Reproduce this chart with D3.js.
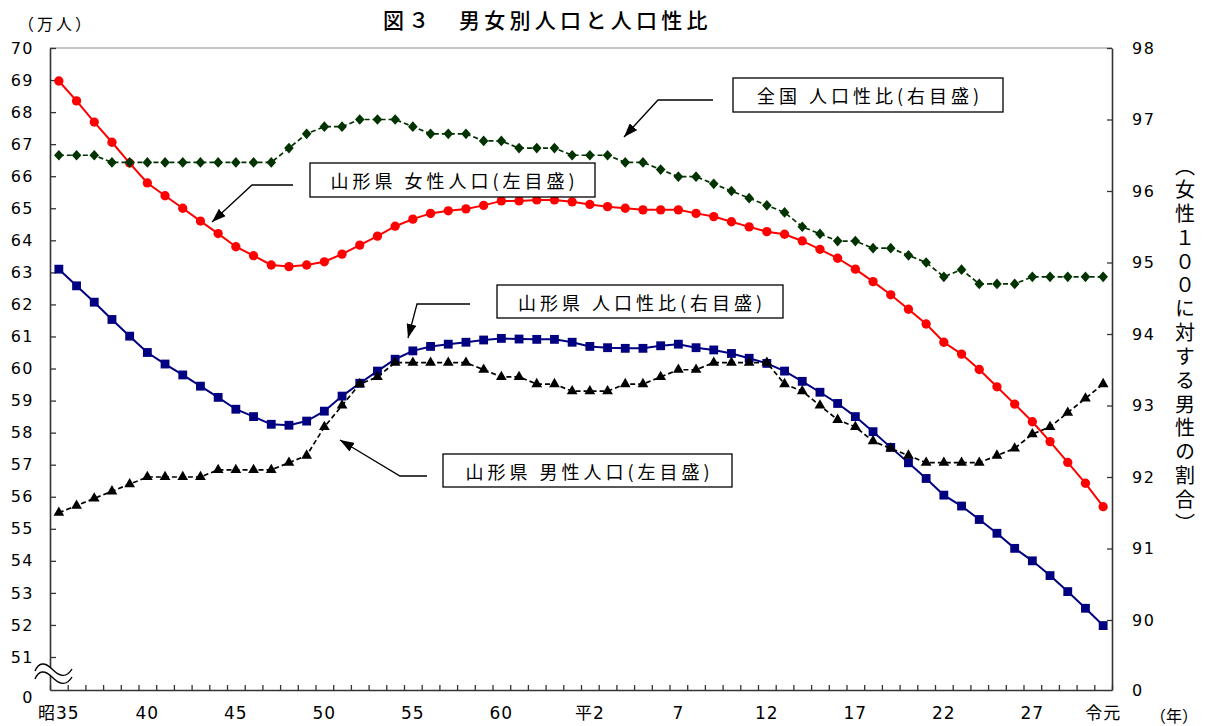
<!DOCTYPE html>
<html><head><meta charset="utf-8">
<script src="https://cdn.jsdelivr.net/npm/d3@7"></script>
<style>
body{margin:0;background:#fff}
svg{display:block;background:#fff}
</style>
</head><body>
<svg id="chart" width="1205" height="726"></svg>
<script>
// ---------------- data ----------------
// years 昭和35(1960) .. 令和元(2019)
const years = d3.range(1960, 2020);
const xTickYears = [1960,1965,1970,1975,1980,1985,1990,1995,2000,2005,2010,2015,2019];
const xTickLabels = ["昭35","40","45","50","55","60","平2","7","12","17","22","27","令元"];

// 山形県 女性人口 (万人, 左目盛)
const femalePop = [68.97,68.35,67.69,67.06,66.41,65.79,65.39,65.00,64.60,64.21,
  63.80,63.52,63.23,63.18,63.23,63.33,63.57,63.85,64.13,64.44,
  64.66,64.84,64.92,64.98,65.09,65.23,65.23,65.26,65.26,65.20,
  65.12,65.05,65.00,64.95,64.95,64.95,64.84,64.74,64.58,64.42,
  64.27,64.19,63.98,63.72,63.44,63.10,62.71,62.30,61.85,61.39,
  60.82,60.45,59.97,59.43,58.89,58.34,57.72,57.07,56.42,55.69];
// 山形県 男性人口 (万人, 左目盛)
const malePop = [63.10,62.58,62.07,61.53,61.01,60.50,60.14,59.80,59.45,59.10,
  58.73,58.50,58.26,58.23,58.36,58.67,59.14,59.54,59.92,60.29,
  60.55,60.69,60.76,60.82,60.89,60.94,60.92,60.91,60.91,60.82,
  60.69,60.65,60.63,60.63,60.71,60.76,60.65,60.58,60.47,60.32,
  60.16,59.92,59.60,59.26,58.91,58.50,58.03,57.54,57.06,56.57,
  56.05,55.71,55.29,54.86,54.39,54.00,53.54,53.04,52.52,51.98];
// 山形県 人口性比 (右目盛)
const ratioYamagata = [91.5,91.6,91.7,91.8,91.9,92.0,92.0,92.0,92.0,92.1,
  92.1,92.1,92.1,92.2,92.3,92.7,93.0,93.3,93.4,93.6,
  93.6,93.6,93.6,93.6,93.5,93.4,93.4,93.3,93.3,93.2,
  93.2,93.2,93.3,93.3,93.4,93.5,93.5,93.6,93.6,93.6,
  93.6,93.3,93.2,93.0,92.8,92.7,92.5,92.4,92.3,92.2,
  92.2,92.2,92.2,92.3,92.4,92.6,92.7,92.9,93.1,93.3];
// 全国 人口性比 (右目盛)
const ratioJapan = [96.5,96.5,96.5,96.4,96.4,96.4,96.4,96.4,96.4,96.4,
  96.4,96.4,96.4,96.6,96.8,96.9,96.9,97.0,97.0,97.0,
  96.9,96.8,96.8,96.8,96.7,96.7,96.6,96.6,96.6,96.5,
  96.5,96.5,96.4,96.4,96.3,96.2,96.2,96.1,96.0,95.9,
  95.8,95.7,95.5,95.4,95.3,95.3,95.2,95.2,95.1,95.0,
  94.8,94.9,94.7,94.7,94.7,94.8,94.8,94.8,94.8,94.8];

const leftTicks = [0].concat(d3.range(51, 71));
const rightTicks = [0].concat(d3.range(90, 99));

// ---------------- layout ----------------
const svg = d3.select("#chart");
const L = 50, R = 1112, T = 48, B = 690;
const numFont = "'DejaVu Sans', 'Noto Sans CJK JP', sans-serif";
const jpFont = "'Noto Sans CJK JP', sans-serif";

const x = d3.scaleBand().domain(years).range([L, R]).padding(0);
const xc = d => x(d) + x.bandwidth() / 2;
const xEdge = d3.scaleLinear().domain([0, years.length]).range([L, R]);
const yL = d3.scaleLinear().domain([0, 51, 70]).range([B, 657, T]);
const yR = d3.scaleLinear().domain([0, 90, 98]).range([B, 620, T]);

// plot area top border
svg.append("line").attr("x1", L).attr("x2", R).attr("y1", T).attr("y2", T)
  .attr("stroke", "#8c8c8c").attr("stroke-width", 1);

// title
svg.append("text").attr("x", 383).attr("y", 28)
  .attr("font-family", jpFont).attr("font-size", 21).attr("font-weight", 500)
  .attr("letter-spacing", 4.3)
  .attr("fill", "#000").text("図３　男女別人口と人口性比");

// unit labels
svg.append("text").attr("x", 18).attr("y", 30)
  .attr("font-family", jpFont).attr("font-size", 16).attr("letter-spacing", 3)
  .text("（万人）");
svg.append("text").attr("x", 1150).attr("y", 722)
  .attr("font-family", jpFont).attr("font-size", 16)
  .text("（年）");

// vertical right axis title
svg.append("text").attr("x", 1185).attr("y", 156)
  .attr("writing-mode", "vertical-rl")
  .style("writing-mode", "vertical-rl")
  .attr("font-family", jpFont).attr("font-size", 20).attr("letter-spacing", 3.8)
  .text("（女性１００に対する男性の割合）");

// axes
function styleAxis(g) {
  g.select(".domain").attr("stroke", "#333").attr("stroke-width", 1.6);
  g.selectAll(".tick line").attr("stroke", "#333").attr("stroke-width", 1.3);
  g.selectAll(".tick text").attr("font-family", numFont).attr("font-size", 16)
    .attr("fill", "#000").attr("letter-spacing", 1.5);
}
const gL = svg.append("g").attr("transform", `translate(${L},0)`)
  .call(d3.axisLeft(yL).tickValues(leftTicks).tickSize(-6).tickSizeOuter(0).tickPadding(16));
styleAxis(gL);
gL.selectAll(".tick").filter(d => d === 0).select("line").remove();
gL.selectAll(".tick").filter(d => d === 0).select("text").attr("dy", "0.8em");

const gR = svg.append("g").attr("transform", `translate(${R},0)`)
  .call(d3.axisRight(yR).tickValues(rightTicks).tickSize(-5).tickSizeOuter(0).tickPadding(20));
styleAxis(gR);
gR.selectAll(".tick").filter(d => d === 0).select("line").remove();

const gB = svg.append("g").attr("transform", `translate(0,${B})`)
  .call(d3.axisBottom(xEdge).tickValues(d3.range(years.length + 1)).tickSize(-5)
    .tickSizeOuter(0).tickFormat(""));
styleAxis(gB);
const gBL = svg.append("g").attr("transform", `translate(0,${B})`)
  .call(d3.axisBottom(x).tickValues(xTickYears).tickSize(0).tickPadding(17)
    .tickFormat(d => xTickLabels[xTickYears.indexOf(d)]));
gBL.select(".domain").remove();
styleAxis(gBL);
gBL.selectAll(".tick text").attr("font-family", numFont).attr("font-size", 17).attr("letter-spacing", 1);

// axis break symbol (≈) on left axis
const wave = (dy) => `M35,${671+dy} C39,${662+dy} 45,${662+dy} 52,${669+dy} S66,${679+dy} 72,${669+dy}`;
svg.append("path")
  .attr("d", wave(0) + ` L72,${677} C66,${687} 57,${684} 52,${677} S39,${670} 35,${679} Z`)
  .attr("fill", "#fff").attr("stroke", "none");
svg.append("path").attr("d", wave(0)).attr("fill", "none").attr("stroke", "#000").attr("stroke-width", 1.4);
svg.append("path").attr("d", wave(8)).attr("fill", "none").attr("stroke", "#000").attr("stroke-width", 1.4);

// ---------------- series ----------------
const diamond = {
  draw(ctx, size) {
    const w = Math.sqrt(size) * 0.5, h = Math.sqrt(size) * 0.56;
    ctx.moveTo(0, -h); ctx.lineTo(w, 0); ctx.lineTo(0, h); ctx.lineTo(-w, 0); ctx.closePath();
  }
};
const series = [
  {data: femalePop, y: yL, color: "#ff0000", dash: null, width: 2, symbol: d3.symbolCircle, size: 68},
  {data: malePop, y: yL, color: "#000080", dash: null, width: 2, symbol: d3.symbolSquare, size: 78},
  {data: ratioYamagata, y: yR, color: "#000000", dash: "5,3", width: 1.7, symbol: d3.symbolTriangle, size: 50},
  {data: ratioJapan, y: yR, color: "#003300", dash: "5,3", width: 1.7, symbol: diamond, size: 92}
];
series.forEach(s => {
  const line = d3.line().x((d, i) => xc(years[i])).y(d => s.y(d));
  svg.append("path").datum(s.data).attr("d", line).attr("fill", "none")
    .attr("stroke", s.color).attr("stroke-width", s.width)
    .attr("stroke-dasharray", s.dash);
  svg.append("g").selectAll("path").data(s.data).join("path")
    .attr("transform", (d, i) => `translate(${xc(years[i])},${s.y(d)})`)
    .attr("d", d3.symbol().type(s.symbol).size(s.size))
    .attr("fill", s.color);
});

// ---------------- annotations ----------------
svg.append("defs").append("marker").attr("id", "ah")
  .attr("viewBox", "0 0 14 10").attr("refX", 14).attr("refY", 5)
  .attr("markerWidth", 14).attr("markerHeight", 10)
  .attr("markerUnits", "userSpaceOnUse").attr("orient", "auto")
  .append("path").attr("d", "M0,0 L14,5 L0,10 Z").attr("fill", "#000");

const notes = [
  {text: "全国 人口性比(右目盛)", box: [733, 78, 1003, 112], arrow: [[713,100],[658,100],[624,137]]},
  {text: "山形県 女性人口(左目盛)", box: [310, 163, 595, 197], arrow: [[293,185],[252,185],[212,222]]},
  {text: "山形県 人口性比(右目盛)", box: [497, 285, 783, 318], arrow: [[470,304],[417,304],[408,338]]},
  {text: "山形県 男性人口(左目盛)", box: [443, 454, 732, 487], arrow: [[427,476],[400,476],[340,440]]}
];
notes.forEach(n => {
  const [x0, y0, x1, y1] = n.box;
  svg.append("rect").attr("x", x0).attr("y", y0).attr("width", x1 - x0).attr("height", y1 - y0)
    .attr("fill", "#fff").attr("stroke", "#000").attr("stroke-width", 1.3);
  svg.append("text").attr("x", (x0 + x1) / 2 + 2).attr("y", (y0 + y1) / 2)
    .attr("dominant-baseline", "central").attr("text-anchor", "middle")
    .attr("font-family", jpFont).attr("font-size", 18).attr("letter-spacing", 4)
    .text(n.text);
  svg.append("path").attr("d", d3.line()(n.arrow)).attr("fill", "none")
    .attr("stroke", "#000").attr("stroke-width", 1.3).attr("marker-end", "url(#ah)");
});
</script>
</body></html>
